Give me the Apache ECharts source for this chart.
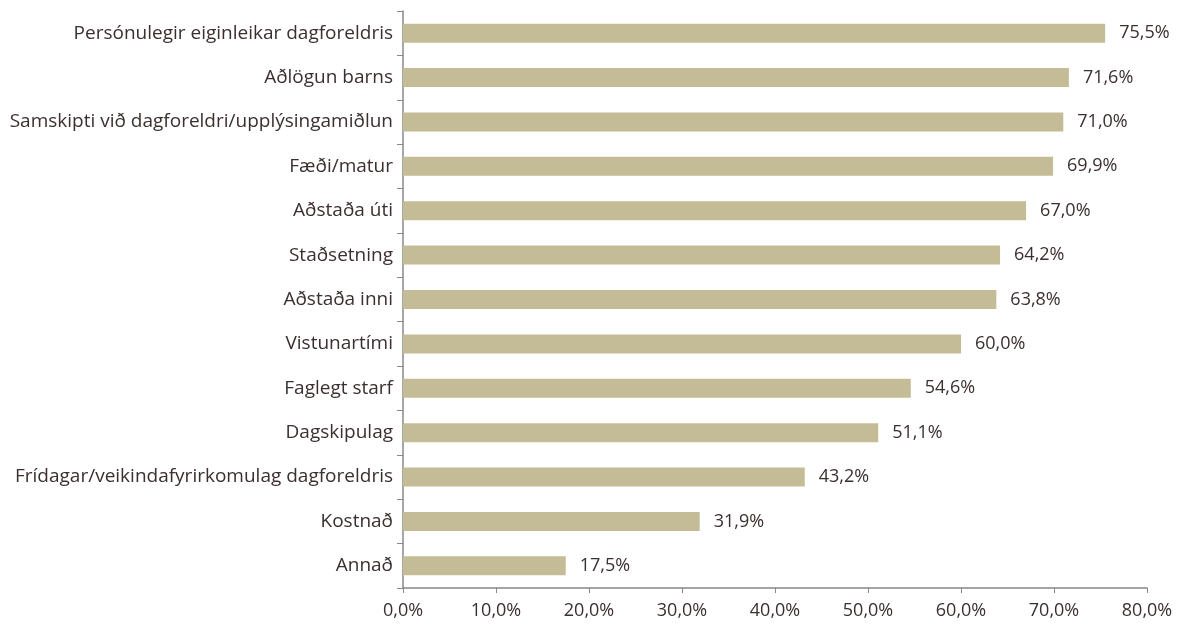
<!DOCTYPE html>
<html>
<head>
<meta charset="utf-8">
<script src="https://cdn.jsdelivr.net/npm/echarts@6/dist/echarts.min.js"></script>
<style>
  html, body { margin: 0; padding: 0; background: #fff; }
  #chart { width: 1180px; height: 633px; }
</style>
</head>
<body>
<div id="chart"></div>
<script>
// flokkar, ofan frá og niður
const categories = [
  'Persónulegir eiginleikar dagforeldris',
  'Aðlögun barns',
  'Samskipti við dagforeldri/upplýsingamiðlun',
  'Fæði/matur',
  'Aðstaða úti',
  'Staðsetning',
  'Aðstaða inni',
  'Vistunartími',
  'Faglegt starf',
  'Dagskipulag',
  'Frídagar/veikindafyrirkomulag dagforeldris',
  'Kostnað',
  'Annað'
];
const values = [75.5, 71.6, 71.0, 69.9, 67.0, 64.2, 63.8, 60.0, 54.6, 51.1, 43.2, 31.9, 17.5];

const textColor = '#3b2f2f';
const fmt = v => v.toFixed(1).replace('.', ',') + '%';

const chart = echarts.init(document.getElementById('chart'));
chart.setOption({
  animation: false,
  textStyle: { fontFamily: 'Open Sans' },
  grid: { left: 403, right: 33, top: 11, bottom: 45, containLabel: false },
  xAxis: {
    type: 'value',
    min: 0,
    max: 80,
    interval: 10,
    splitLine: { show: false },
    axisLine: { show: true, lineStyle: { color: '#888', width: 1.5 } },
    axisTick: { show: true, length: 5, lineStyle: { color: '#888' } },
    axisLabel: { color: textColor, fontSize: 18, margin: 14, formatter: v => fmt(v) }
  },
  yAxis: {
    type: 'category',
    inverse: true,
    data: categories,
    axisLine: { lineStyle: { color: '#888', width: 1.5 } },
    axisTick: { show: true, length: 6, lineStyle: { color: '#888' } },
    axisLabel: { color: textColor, fontSize: 19, margin: 10 }
  },
  series: [{
    type: 'bar',
    data: values,
    barWidth: 19,
    itemStyle: { color: '#c4bc96' },
    label: {
      show: true,
      position: 'right',
      distance: 14,
      color: textColor,
      fontSize: 18,
      formatter: p => fmt(p.value)
    }
  }]
});
</script>
</body>
</html>
